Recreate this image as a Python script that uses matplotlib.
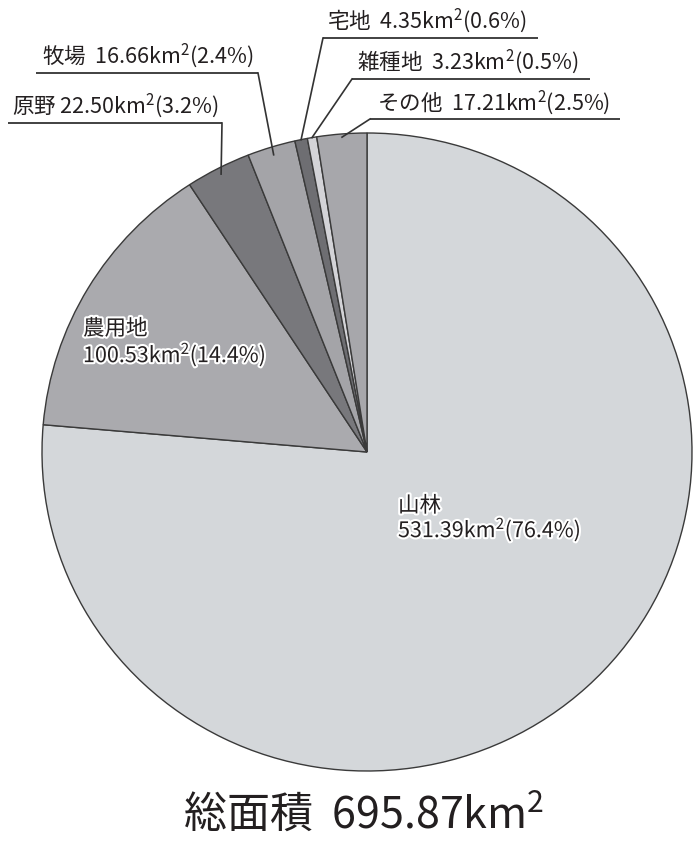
import matplotlib
matplotlib.use('Agg')
import matplotlib.pyplot as plt
import matplotlib.patheffects as pe
import numpy as np

plt.rcParams['font.family'] = ['Noto Sans CJK JP', 'DejaVu Sans']
plt.rcParams['mathtext.fontset'] = 'custom'
plt.rcParams['mathtext.rm'] = 'Noto Sans CJK JP'
plt.rcParams['mathtext.it'] = 'Noto Sans CJK JP'

categories = ['山林', '農用地', '原野', '牧場', '宅地', '雑種地', 'その他']
areas = [531.39, 100.53, 22.50, 16.66, 4.35, 3.23, 17.21]
percents = [76.4, 14.4, 3.2, 2.4, 0.6, 0.5, 2.5]
total_area = 695.87
colors = ['#d4d7da', '#aaaaae', '#78787c', '#a4a4a8', '#6e6e72', '#d3d3d7', '#a7a7ab']

W, H = 695, 843
fig = plt.figure(figsize=(W / 100, H / 100), dpi=100)
cx, cy, rx, ry = 367, 452, 325, 319
ax = fig.add_axes([(cx - rx) / W, 1 - (cy + ry) / H, 2 * rx / W, 2 * ry / H])
wedges, _ = ax.pie(areas, colors=colors, startangle=90, counterclock=False, radius=1,
                   wedgeprops=dict(edgecolor='#3a3a3a', linewidth=1.0))
for w in wedges:
    w.set_clip_on(False)
ax.set_xlim(-1, 1)
ax.set_ylim(-1, 1)
ax.set_aspect('auto')
ax.axis('off')

ov = fig.add_axes([0, 0, 1, 1])
ov.set_xlim(0, W)
ov.set_ylim(H, 0)
ov.axis('off')
ov.patch.set_visible(False)

tc = '#231f20'
lc = '#333333'
fs = 15.5
KM2 = r'km$^{2}$'

def pie_point(i, r=0.99):
    w = wedges[i]
    a = np.deg2rad((w.theta1 + w.theta2) / 2)
    return cx + rx * r * np.cos(a), cy - ry * r * np.sin(a)

def label(i, sep=' '):
    return f'{categories[i]}{sep}{areas[i]:.2f}{KM2}({percents[i]}%)'

# outside labels: index -> (text x, text y, underline x0, x1, y, attach side, r)
outer = {
    2: (12, 106, 8, 222, 123, 'right', 0.98, ' '),
    3: (42, 56, 36, 258, 73, 'right', 0.975, '  '),
    4: (327, 21, 323, 538, 38, 'left', 1.0, '  '),
    5: (357, 62, 352, 590, 79, 'left', 1.0, '  '),
    6: (377, 103, 370, 620, 119, 'left', 0.99, '  '),
}
for i, (tx, ty, x0, x1, uy, side, r, sep) in outer.items():
    ov.text(tx, ty, label(i, sep), fontsize=fs, color=tc, ha='left', va='center')
    ov.plot([x0, x1], [uy, uy], color=lc, lw=1.3, solid_capstyle='butt')
    px, py = pie_point(i, r)
    ax_x = x1 if side == 'right' else x0
    ov.plot([ax_x, px], [uy, py], color=lc, lw=1.2)

glow = [pe.withStroke(linewidth=3, foreground='white')]
inner = {0: (398, 506, 530), 1: (83, 329, 355)}
for i, (tx, y1, y2) in inner.items():
    ov.text(tx, y1, categories[i], fontsize=fs, color=tc, ha='left', va='center', path_effects=glow)
    ov.text(tx, y2, f'{areas[i]:.2f}{KM2}({percents[i]}%)', fontsize=fs, color=tc,
            ha='left', va='center', path_effects=glow)

ov.text(364, 815, f'総面積  {total_area:.2f}{KM2}', fontsize=31, color=tc, ha='center', va='center')

fig.savefig('out.png', dpi=100)
